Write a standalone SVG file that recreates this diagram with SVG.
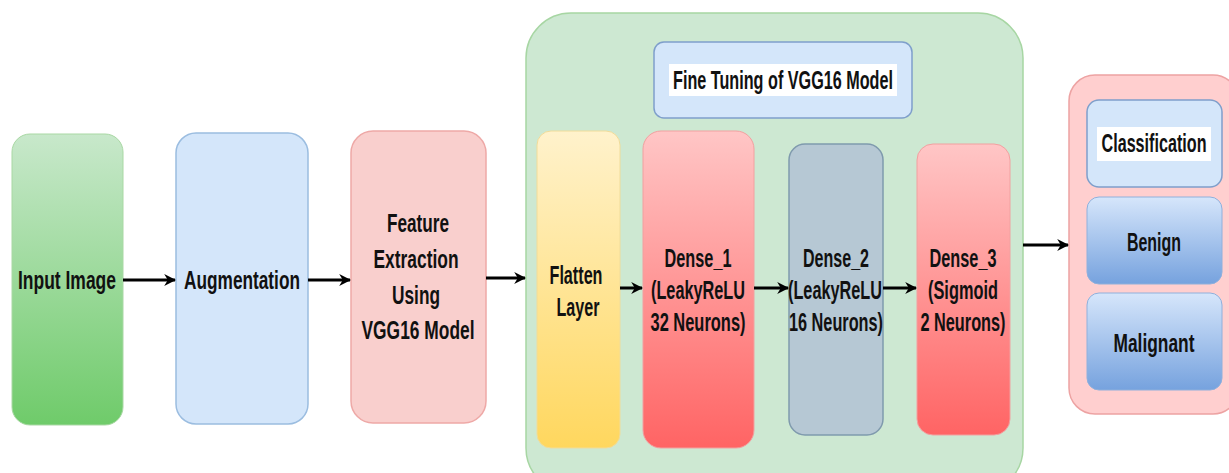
<svg xmlns="http://www.w3.org/2000/svg" width="1229" height="473" viewBox="0 0 1229 473">
<defs>
<linearGradient id="gGreen" x1="0" y1="0" x2="0" y2="1"><stop offset="0" stop-color="#c8e8cb"/><stop offset="1" stop-color="#6fcb6a"/></linearGradient>
<linearGradient id="gYellow" x1="0" y1="0" x2="0" y2="1"><stop offset="0" stop-color="#fff2cc"/><stop offset="1" stop-color="#ffd75e"/></linearGradient>
<linearGradient id="gRed" x1="0" y1="0" x2="0" y2="1"><stop offset="0" stop-color="#ffc6c6"/><stop offset="1" stop-color="#ff6464"/></linearGradient>
<linearGradient id="gBlue" x1="0" y1="0" x2="0" y2="1"><stop offset="0" stop-color="#d6e6fb"/><stop offset="1" stop-color="#76a2de"/></linearGradient>
<marker id="arr" viewBox="0 0 10 10" refX="9" refY="5" markerWidth="4" markerHeight="4" orient="auto" markerUnits="strokeWidth">
<path d="M0,0 L10,5 L0,10 L3,5 Z" fill="#000"/>
</marker>
</defs>
<style>
text{font-family:"Liberation Sans",Arial,sans-serif;font-weight:bold;font-size:26px;fill:#111;text-anchor:middle}
.edge{stroke:#000;stroke-width:3;fill:none;marker-end:url(#arr)}
</style>
<rect width="1229" height="473" fill="#fff"/>

<g id="container-finetune">
<rect x="526" y="13" width="497" height="480" rx="45" fill="#cde8d2" stroke="#a7d6a3" stroke-width="1.5"/>
</g>
<g id="container-output">
<rect x="1069" y="75" width="170" height="339" rx="26" fill="#ffcfcf" stroke="#eda3a3" stroke-width="1.5"/>
</g>

<g id="input-image">
<rect x="12" y="134" width="111" height="291" rx="18" fill="url(#gGreen)" stroke="#a9d8a4" stroke-width="1"/>
<text x="67" y="289" textLength="98" lengthAdjust="spacingAndGlyphs">Input Image</text>
</g>
<g id="augmentation">
<rect x="176" y="133" width="132" height="291" rx="20" fill="#d4e6fa" stroke="#9bbde0" stroke-width="1.5"/>
<text x="242" y="289" textLength="116" lengthAdjust="spacingAndGlyphs">Augmentation</text>
</g>
<g id="feature-extraction">
<rect x="351" y="131" width="135" height="292" rx="22" fill="#f9cfcd" stroke="#eea9a7" stroke-width="1.5"/>
<text x="418" y="232" textLength="62" lengthAdjust="spacingAndGlyphs">Feature</text>
<text x="416" y="268" textLength="85" lengthAdjust="spacingAndGlyphs">Extraction</text>
<text x="416" y="304" textLength="48" lengthAdjust="spacingAndGlyphs">Using</text>
<text x="418" y="339" textLength="113" lengthAdjust="spacingAndGlyphs">VGG16 Model</text>
</g>

<g id="fine-tuning-title">
<rect x="654" y="42" width="258" height="76" rx="10" fill="#d4e6fa" stroke="#7f9fcb" stroke-width="1.5"/>
<rect x="669" y="64" width="228" height="32" fill="#fff"/>
<text x="783" y="89" textLength="220" lengthAdjust="spacingAndGlyphs">Fine Tuning of VGG16 Model</text>
</g>
<g id="flatten">
<rect x="537" y="131" width="83" height="317" rx="14" fill="url(#gYellow)" stroke="#f0dc9a" stroke-width="1"/>
<text x="576" y="284" textLength="53" lengthAdjust="spacingAndGlyphs">Flatten</text>
<text x="578" y="316" textLength="43" lengthAdjust="spacingAndGlyphs">Layer</text>
</g>
<g id="dense1">
<rect x="643" y="131" width="111" height="317" rx="18" fill="url(#gRed)" stroke="#f2a0a0" stroke-width="1"/>
<text x="698" y="267" textLength="67" lengthAdjust="spacingAndGlyphs">Dense_1</text>
<text x="698" y="299" textLength="94" lengthAdjust="spacingAndGlyphs">(LeakyReLU</text>
<text x="698" y="331" textLength="95" lengthAdjust="spacingAndGlyphs">32 Neurons)</text>
</g>
<g id="dense2">
<rect x="789" y="144" width="94" height="291" rx="16" fill="#b6c8d4" stroke="#7f9aad" stroke-width="1.5"/>
<text x="836" y="267" textLength="66" lengthAdjust="spacingAndGlyphs">Dense_2</text>
<text x="835" y="299" textLength="94" lengthAdjust="spacingAndGlyphs">(LeakyReLU</text>
<text x="836" y="331" textLength="94" lengthAdjust="spacingAndGlyphs">16 Neurons)</text>
</g>
<g id="dense3">
<rect x="917" y="144" width="93" height="291" rx="16" fill="url(#gRed)" stroke="#f2a0a0" stroke-width="1"/>
<text x="963" y="267" textLength="67" lengthAdjust="spacingAndGlyphs">Dense_3</text>
<text x="963" y="299" textLength="70" lengthAdjust="spacingAndGlyphs">(Sigmoid</text>
<text x="963" y="331" textLength="85" lengthAdjust="spacingAndGlyphs">2 Neurons)</text>
</g>

<g id="classification">
<rect x="1087" y="100" width="135" height="87" rx="12" fill="#d4e6fa" stroke="#7f9fcb" stroke-width="1.5"/>
<rect x="1097" y="127" width="114" height="34" fill="#fff"/>
<text x="1154" y="152" textLength="105" lengthAdjust="spacingAndGlyphs">Classification</text>
</g>
<g id="benign">
<rect x="1087" y="197" width="135" height="87" rx="12" fill="url(#gBlue)" stroke="#8fb0dc" stroke-width="1"/>
<text x="1154" y="251" textLength="54" lengthAdjust="spacingAndGlyphs">Benign</text>
</g>
<g id="malignant">
<rect x="1087" y="293" width="135" height="97" rx="12" fill="url(#gBlue)" stroke="#8fb0dc" stroke-width="1"/>
<text x="1154" y="352" textLength="81" lengthAdjust="spacingAndGlyphs">Malignant</text>
</g>

<g id="connectors">
<line class="edge" x1="123" y1="280" x2="175" y2="280"/>
<line class="edge" x1="308" y1="280" x2="350" y2="280"/>
<line class="edge" x1="486" y1="278" x2="525" y2="278"/>
<line class="edge" x1="620" y1="288" x2="642" y2="288"/>
<line class="edge" x1="754" y1="288" x2="788" y2="288"/>
<line class="edge" x1="883" y1="288" x2="916" y2="288"/>
<line class="edge" x1="1023" y1="245" x2="1068" y2="245"/>
</g>
</svg>
